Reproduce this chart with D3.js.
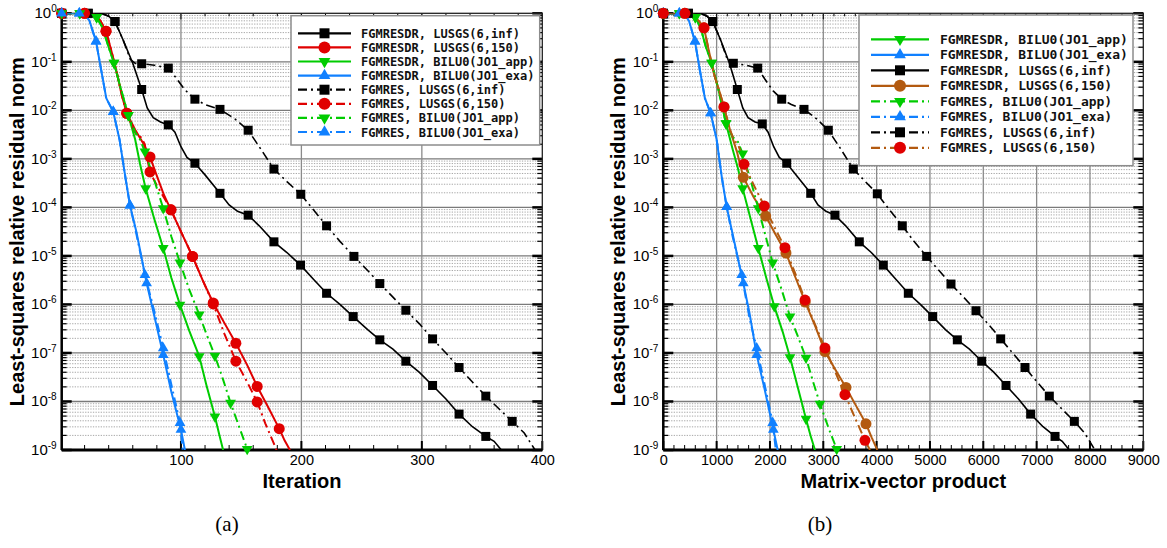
<!DOCTYPE html>
<html>
<head>
<meta charset="utf-8">
<script src="https://cdn.jsdelivr.net/npm/d3@7/dist/d3.min.js"></script>
<style>
  body { margin: 0; background: #fff; }
</style>
</head>
<body>
<div class="chart"></div>
<script>
// each point: [x, log10(residual), 1 if a symbol is drawn there]
// ---- (a) iterations ----
const itDrLusgsInf = [[1,0,1],[23,0,1],[35,-0.01],[40,-0.06],[45.2,-0.17,1],[52,-0.55],[60,-1.03],[67.4,-1.57,1],[72,-1.95],[77,-2.15],[83,-2.24],[89.5,-2.30,1],[95,-2.45],[100,-2.75],[105,-2.97],[111.6,-3.09,1],[120,-3.33],[132.4,-3.71,1],[140,-3.95],[147,-4.08],[155.8,-4.16,1],[165,-4.38],[177.2,-4.71,1],[188,-4.93],[199.3,-5.19,1],[210,-5.48],[220.9,-5.77,1],[232,-6.0],[243,-6.25,1],[255,-6.52],[265.1,-6.73,1],[276,-6.92],[286.7,-7.17,1],[298,-7.4],[308.9,-7.67,1],[320,-7.95],[330.9,-8.26,1],[342,-8.52],[353.1,-8.72,1],[360,-8.82],[366,-9.0]];
const itResLusgsInf = [[1,0,1],[23,0,1],[35,-0.01],[40,-0.06],[45.2,-0.17,1],[52,-0.55],[58,-0.95],[62,-1.03],[67.4,-1.04,1],[78,-1.07],[89.5,-1.13,1],[95,-1.3],[103,-1.57],[111.6,-1.77,1],[120,-1.88],[132.4,-1.98,1],[145,-2.18],[155.8,-2.41,1],[165,-2.75],[177.2,-3.21,1],[188,-3.47],[199.5,-3.73,1],[210,-4.05],[220.9,-4.38,1],[232,-4.7],[243.6,-5.01,1],[255,-5.3],[265.1,-5.57,1],[276,-5.85],[286.7,-6.12,1],[298,-6.4],[308.9,-6.71,1],[320,-7.0],[330.9,-7.30,1],[342,-7.6],[353.1,-7.89,1],[364,-8.15],[375,-8.41,1],[385,-8.65],[394,-9.0]];
const itDrLusgs150 = [[1,0,1],[20,0,1],[28,-0.03],[33,-0.15],[37.8,-0.37,1],[42,-0.75],[47,-1.25],[51,-1.7],[55,-2.06,1],[62,-2.4],[68,-2.65],[74.3,-2.96,1],[80,-3.35],[86,-3.75],[91.7,-4.05,1],[100,-4.5],[109.6,-5.01,1],[118,-5.5],[126.8,-5.97,1],[136,-6.38],[145.6,-6.80,1],[155,-7.25],[163.3,-7.69,1],[172,-8.1],[181.6,-8.56,1],[186,-8.8],[190.5,-9.0]];
const itResLusgs150 = [[1,0,1],[20,0,1],[28,-0.03],[33,-0.15],[37.8,-0.37,1],[42,-0.75],[47,-1.25],[51,-1.7],[55,-2.06,1],[60,-2.35],[63,-2.5],[67,-2.56],[70,-2.7],[72,-3.0],[74.3,-3.27,1],[80,-3.55],[86,-3.8],[91.7,-4.05,1],[100,-4.5],[109.6,-5.01,1],[118,-5.5],[126.8,-5.99,1],[136,-6.6],[145.6,-7.17,1],[155,-7.6],[163.3,-8.01,1],[170,-8.45],[179.4,-9.0]];
const itDrBiluApp = [[1,0,1],[16,0,1],[25,-0.02],[30,-0.08,1],[35,-0.3],[40,-0.7],[44.4,-1.02,1],[50,-1.55],[56.3,-2.10,1],[62,-2.6],[66,-3.1],[70.7,-3.61,1],[78,-4.25],[85.3,-4.84,1],[92,-5.45],[99.2,-6.01,1],[107,-6.55],[115.2,-7.07,1],[121,-7.65],[128.2,-8.31,1],[132,-8.7],[135,-9.0]];
const itResBiluApp = [[1,0,1],[16,0,1],[25,-0.02],[30,-0.08,1],[35,-0.3],[40,-0.7],[44.4,-1.02,1],[50,-1.55],[56.3,-2.10,1],[62,-2.45],[66,-2.6],[70.1,-2.85,1],[78,-3.45],[85.3,-4.02,1],[92,-4.6],[99.2,-5.14,1],[107,-5.7],[115.2,-6.21,1],[121,-6.6],[128.2,-7.06,1],[135,-7.55],[141.2,-8.03,1],[148,-8.5],[155,-8.98,1],[156,-9.05]];
const itDrBiluExa = [[1,0,1],[15.6,0,1],[20,-0.02],[24,-0.15],[29.5,-0.58,1],[34,-1.2],[38,-1.75],[43.8,-2.03,1],[49,-2.6],[54,-3.4],[57.7,-3.96,1],[63,-4.5],[71.5,-5.56,1],[78,-6.25],[85.3,-7.04,1],[92,-7.8],[100,-8.58,1],[103.3,-9.0]];
const itResBiluExa = [[1,0,1],[15.6,0,1],[20,-0.02],[24,-0.15],[29.5,-0.58,1],[34,-1.2],[38,-1.75],[43.8,-2.03,1],[49,-2.6],[54,-3.4],[57.7,-3.96,1],[63,-4.55],[70.1,-5.39,1],[78,-6.15],[85.3,-6.90,1],[92,-7.65],[99.2,-8.44,1],[101.5,-9.0]];

// ---- (b) matrix-vector products ----
const mvDrLusgsInf = [[0,0,1],[470,0,1],[720,-0.01],[820,-0.06],[926,-0.17,1],[1075,-0.55],[1240,-1.03],[1388,-1.57,1],[1490,-1.95],[1590,-2.15],[1720,-2.24],[1856,-2.28,1],[1965,-2.45],[2070,-2.75],[2175,-2.97],[2314,-3.09,1],[2490,-3.33],[2764,-3.71,1],[2900,-3.95],[3050,-4.08],[3219,-4.16,1],[3420,-4.38],[3675,-4.71,1],[3900,-4.93],[4125,-5.19,1],[4360,-5.48],[4594,-5.77,1],[4820,-6.0],[5051,-6.25,1],[5290,-6.52],[5513,-6.73,1],[5740,-6.92],[5970,-7.17,1],[6200,-7.4],[6426,-7.67,1],[6660,-7.95],[6888,-8.26,1],[7120,-8.52],[7345,-8.72,1],[7480,-8.82],[7613,-9.0]];
const mvResLusgsInf = [[0,0,1],[470,0,1],[720,-0.01],[820,-0.06],[926,-0.17,1],[1075,-0.55],[1200,-0.95],[1260,-1.01],[1313,-1.03,1],[1550,-1.07],[1770,-1.13,1],[1900,-1.35],[2060,-1.6],[2220,-1.77,1],[2400,-1.88],[2638,-1.98,1],[2880,-2.18],[3094,-2.41,1],[3300,-2.75],[3563,-3.21,1],[3790,-3.47],[4013,-3.72,1],[4240,-4.05],[4481,-4.38,1],[4700,-4.7],[4938,-5.01,1],[5170,-5.3],[5394,-5.58,1],[5630,-5.85],[5863,-6.13,1],[6090,-6.4],[6326,-6.71,1],[6550,-7.0],[6782,-7.30,1],[7010,-7.6],[7238,-7.89,1],[7470,-8.15],[7707,-8.41,1],[7900,-8.65],[8094,-9.0]];
const mvDrLusgs150 = [[0,0,1],[400,0,1],[560,-0.03],[660,-0.15],[763,-0.30,1],[850,-0.75],[950,-1.25],[1050,-1.6],[1138,-1.93,1],[1250,-2.4],[1380,-2.85],[1500,-3.38,1],[1700,-3.8],[1920,-4.18,1],[2100,-4.55],[2300,-4.94,1],[2480,-5.45],[2660,-5.95,1],[2850,-6.45],[3031,-6.97,1],[3230,-7.35],[3425,-7.71,1],[3610,-8.08],[3800,-8.46,1],[3910,-8.75],[4013,-9.0]];
const mvResLusgs150 = [[0,0,1],[406,0,1],[560,-0.03],[660,-0.15],[763,-0.30,1],[850,-0.75],[950,-1.25],[1050,-1.6],[1138,-1.93,1],[1250,-2.4],[1330,-2.62],[1400,-2.7],[1450,-2.85],[1513,-3.11,1],[1700,-3.55],[1894,-3.97,1],[2080,-4.4],[2281,-4.83,1],[2470,-5.35],[2657,-5.91,1],[2840,-6.4],[3031,-6.90,1],[3220,-7.38],[3406,-7.86,1],[3600,-8.35],[3781,-8.80,1],[3875,-9.0]];
const mvDrBiluApp = [[0,0,1],[300,0,1],[480,-0.02],[600,-0.08,1],[700,-0.3],[800,-0.7],[907,-1.02,1],[1040,-1.6],[1176,-2.27,1],[1300,-2.8],[1400,-3.2],[1488,-3.61,1],[1640,-4.25],[1781,-4.84,1],[1930,-5.45],[2081,-6.04,1],[2240,-6.57],[2376,-7.09,1],[2520,-7.7],[2676,-8.36,1],[2760,-8.7],[2844,-9.0]];
const mvResBiluApp = [[0,0,1],[300,0,1],[480,-0.02],[600,-0.08,1],[700,-0.3],[800,-0.7],[907,-1.02,1],[1040,-1.6],[1176,-2.27,1],[1300,-2.55],[1400,-2.65],[1488,-2.89,1],[1640,-3.45],[1781,-4.02,1],[1920,-4.6],[2051,-5.14,1],[2220,-5.7],[2376,-6.25,1],[2520,-6.65],[2676,-7.10,1],[2810,-7.6],[2938,-8.05,1],[3100,-8.55],[3251,-8.98,1],[3270,-9.05]];
const mvDrBiluExa = [[0,0,1],[300,0,1],[400,-0.02],[480,-0.15],[594,-0.58,1],[690,-1.2],[780,-1.75],[888,-2.06,1],[1000,-2.6],[1100,-3.4],[1188,-3.99,1],[1300,-4.55],[1500,-5.56,1],[1620,-6.2],[1751,-7.04,1],[1900,-7.75],[2063,-8.58,1],[2145,-9.0]];
const mvResBiluExa = [[0,0,1],[300,0,1],[400,-0.02],[480,-0.15],[594,-0.58,1],[690,-1.2],[780,-1.75],[888,-2.06,1],[1000,-2.6],[1100,-3.4],[1188,-3.99,1],[1300,-4.6],[1469,-5.39,1],[1620,-6.3],[1751,-6.90,1],[1900,-7.65],[2051,-8.44,1],[2110,-9.0]];

const legendA = ["FGMRESDR, LUSGS(6,inf)","FGMRESDR, LUSGS(6,150)","FGMRESDR, BILU0(JO1_app)","FGMRESDR, BILU0(JO1_exa)",
                 "FGMRES, LUSGS(6,inf)","FGMRES, LUSGS(6,150)","FGMRES, BILU0(JO1_app)","FGMRES, BILU0(JO1_exa)"];
const legendB = ["FGMRESDR, BILU0(JO1_app)","FGMRESDR, BILU0(JO1_exa)","FGMRESDR, LUSGS(6,inf)","FGMRESDR, LUSGS(6,150)",
                 "FGMRES, BILU0(JO1_app)","FGMRES, BILU0(JO1_exa)","FGMRES, LUSGS(6,inf)","FGMRES, LUSGS(6,150)"];
const xTicksA = [100,200,300,400];
const xTicksB = [0,1000,2000,3000,4000,5000,6000,7000,8000,9000];
const decades = [0,-1,-2,-3,-4,-5,-6,-7,-8,-9];

const BLACK="#000", RED="#e00000", GREEN="#00cc00", BLUE="#1080ff", BROWN="#b35a10";
const DASH="9,4,2,4";

const svg = d3.select(".chart").append("svg")
  .attr("width",1167).attr("height",548)
  .style("font-family","'Liberation Sans', Arial, sans-serif");

const yTop=13.3, yBot=450;
const y = d3.scaleLog().domain([1e-9,1]).range([yBot,yTop]);

function symbolPath(kind,size){
  if(kind=="square") return d3.symbol(d3.symbolSquare, size*size)();
  if(kind=="circle") return d3.symbol(d3.symbolCircle, Math.PI*size*size/4)();
  return d3.symbol(d3.symbolTriangle, size*size*0.5)();
}

function drawPanel(p){
  const x = d3.scaleLinear().domain(p.domain).range([p.left,p.right]);
  const g = svg.append("g");
  const id = "clip"+p.name;
  g.append("clipPath").attr("id",id).append("rect")
    .attr("x",p.left).attr("y",yTop).attr("width",p.right-p.left).attr("height",yBot-yTop);

  // minor horizontal grid
  const minors=[];
  decades.slice(1).forEach(d=>{ for(let k=2;k<=9;k++) minors.push(k*Math.pow(10,d)); });
  g.selectAll(".mg").data(minors).enter().append("line")
    .attr("x1",p.left).attr("x2",p.right).attr("y1",d=>y(d)).attr("y2",d=>y(d))
    .attr("stroke","#a8a8a8").attr("stroke-width",1).attr("stroke-dasharray","1.3,1.3");
  // major grid
  g.selectAll(".Mg").data(decades.slice(1,-1)).enter().append("line")
    .attr("x1",p.left).attr("x2",p.right).attr("y1",d=>y(Math.pow(10,d))).attr("y2",d=>y(Math.pow(10,d)))
    .attr("stroke","#7a7a7a").attr("stroke-width",1.3);
  g.selectAll(".vg").data(p.ticks.filter(t=>t>p.domain[0]&&t<p.domain[1])).enter().append("line")
    .attr("x1",d=>x(d)).attr("x2",d=>x(d)).attr("y1",yTop).attr("y2",yBot)
    .attr("stroke","#8a8a8a").attr("stroke-width",1.3);

  // x tick labels
  const ax = g.append("g").attr("transform",`translate(0,${yBot})`)
    .call(d3.axisBottom(x).tickValues(p.ticks).tickFormat(d3.format("d")).tickSize(0).tickPadding(5));
  ax.select(".domain").remove();
  ax.selectAll("text").attr("font-size",14.5).attr("font-family","'Liberation Sans', Arial, sans-serif").attr("fill","#000");
  // x ticks (inside) bottom and top
  const minorX = d3.range(0, p.domain[1]+1e-6, p.minorStep).filter(v=>v>=p.domain[0]);
  minorX.forEach(v=>{
    const major = p.ticks.indexOf(v)>=0;
    const len = major?9:5;
    g.append("line").attr("x1",x(v)).attr("x2",x(v)).attr("y1",yBot).attr("y2",yBot-len)
      .attr("stroke","#000").attr("stroke-width",major?2:1);
    g.append("line").attr("x1",x(v)).attr("x2",x(v)).attr("y1",yTop).attr("y2",yTop+(major?6:3))
      .attr("stroke","#000").attr("stroke-width",1);
  });
  // y ticks both sides + labels
  decades.forEach(d=>{
    const yy=y(Math.pow(10,d));
    g.append("line").attr("x1",p.left).attr("x2",p.left+10).attr("y1",yy).attr("y2",yy).attr("stroke","#000").attr("stroke-width",2.5);
    g.append("line").attr("x1",p.right).attr("x2",p.right-10).attr("y1",yy).attr("y2",yy).attr("stroke","#000").attr("stroke-width",2.5);
    const t=g.append("text").attr("x",p.left-5).attr("y",yy+5).attr("text-anchor","end").attr("font-size",15);
    t.append("tspan").text("10");
    t.append("tspan").attr("dy",-6).attr("font-size",10).text(d===0?"0":"-"+(-d));
  });
  minors.forEach(v=>{
    const yy=y(v);
    g.append("line").attr("x1",p.left).attr("x2",p.left+5).attr("y1",yy).attr("y2",yy).attr("stroke","#000").attr("stroke-width",1.2);
    g.append("line").attr("x1",p.right).attr("x2",p.right-5).attr("y1",yy).attr("y2",yy).attr("stroke","#000").attr("stroke-width",1.2);
  });

  // frame
  g.append("rect").attr("x",p.left).attr("y",yTop).attr("width",p.right-p.left).attr("height",yBot-yTop)
    .attr("fill","none").attr("stroke","#222").attr("stroke-width",1.3);
  g.append("line").attr("x1",p.left).attr("x2",p.right).attr("y1",yBot).attr("y2",yBot).attr("stroke","#000").attr("stroke-width",3);
  g.append("line").attr("x1",p.left).attr("x2",p.left).attr("y1",yTop).attr("y2",yBot).attr("stroke","#000").attr("stroke-width",2.5);

  // series
  const line = d3.line().x(d=>x(d[0])).y(d=>y(Math.pow(10,d[1])));
  p.series.forEach(s=>{
    g.append("path").attr("d",line(s.data)).attr("clip-path",`url(#${id})`)
      .attr("fill","none").attr("stroke",s.color).attr("stroke-width",s.color===BLACK?1.6:2)
      .attr("stroke-dasharray",s.dash?DASH:null);
  });
  p.series.forEach(s=>{
    g.selectAll(null).data(s.data.filter(d=>d[2])).enter().append("path")
      .attr("d",symbolPath(s.sym,s.size))
      .attr("transform",d=>`translate(${x(d[0])},${y(Math.pow(10,d[1]))})`+(s.sym==="down"?" rotate(180)":""))
      .attr("fill",s.mcolor||s.color);
  });

  // legend
  const L=p.legend;
  g.append("rect").attr("x",L.x).attr("y",L.y).attr("width",L.w).attr("height",L.h)
    .attr("fill","#fff").attr("stroke","#8c8c8c").attr("stroke-width",1.5);
  p.series.forEach((s,i)=>{
    const yy=L.y0+i*L.dy;
    g.append("line").attr("x1",L.lx0).attr("x2",L.lx1).attr("y1",yy).attr("y2",yy)
      .attr("stroke",s.color).attr("stroke-width",2.2).attr("stroke-dasharray",s.dash?DASH:null);
    g.append("path").attr("d",symbolPath(s.sym,s.size+1))
      .attr("transform",`translate(${(L.lx0+L.lx1)/2},${yy})`+(s.sym==="down"?" rotate(180)":""))
      .attr("fill",s.mcolor||s.color);
    g.append("text").attr("x",L.tx).attr("y",yy+4.5).attr("font-family","'DejaVu Sans Mono', monospace")
      .attr("font-weight","bold").attr("font-size",L.fs).attr("fill","#111").text(p.labels[i]);
  });

  // titles
  g.append("text").attr("x",(p.left+p.right)/2).attr("y",488).attr("text-anchor","middle")
    .attr("font-weight","bold").attr("font-size",20).text(p.xTitle);
  g.append("text").attr("transform",`translate(${p.left-38},${(yTop+yBot)/2}) rotate(-90)`)
    .attr("text-anchor","middle").attr("font-weight","bold").attr("font-size",20)
    .text("Least-squares relative residual norm");
  svg.append("text").attr("x",p.capX).attr("y",531).attr("text-anchor","middle")
    .attr("font-family","'Liberation Serif', 'DejaVu Serif', serif").attr("font-size",21).text(p.caption);
}

drawPanel({
  name:"a", left:61.7, right:542.3, domain:[1,400], ticks:xTicksA, minorStep:20,
  xTitle:"Iteration", caption:"(a)", capX:227, labels:legendA,
  legend:{x:291,y:15.7,w:248.7,h:129.3,y0:33.3,dy:14.1,lx0:298,lx1:351,tx:361,fs:12},
  series:[
    {data:itDrLusgsInf,color:BLACK,sym:"square",size:9},
    {data:itDrLusgs150,color:RED,sym:"circle",size:11},
    {data:itDrBiluApp,color:GREEN,sym:"down",size:10},
    {data:itDrBiluExa,color:BLUE,sym:"up",size:10},
    {data:itResLusgsInf,color:BLACK,sym:"square",size:9,dash:true},
    {data:itResLusgs150,color:RED,sym:"circle",size:11,dash:true},
    {data:itResBiluApp,color:GREEN,sym:"down",size:10,dash:true},
    {data:itResBiluExa,color:BLUE,sym:"up",size:10,dash:true}
  ]
});

drawPanel({
  name:"b", left:663.3, right:1143.3, domain:[0,9000], ticks:xTicksB, minorStep:200,
  xTitle:"Matrix-vector product", caption:"(b)", capX:820, labels:legendB,
  legend:{x:859,y:15,w:274,h:150.7,y0:39.3,dy:15.5,lx0:871,lx1:929,tx:940,fs:13},
  series:[
    {data:mvDrBiluApp,color:GREEN,sym:"down",size:10},
    {data:mvDrBiluExa,color:BLUE,sym:"up",size:10},
    {data:mvDrLusgsInf,color:BLACK,sym:"square",size:9},
    {data:mvDrLusgs150,color:BROWN,sym:"circle",size:11},
    {data:mvResBiluApp,color:GREEN,sym:"down",size:10,dash:true},
    {data:mvResBiluExa,color:BLUE,sym:"up",size:10,dash:true},
    {data:mvResLusgsInf,color:BLACK,sym:"square",size:9,dash:true},
    {data:mvResLusgs150,color:BROWN,sym:"circle",size:11,dash:true,mcolor:RED}
  ]
});
</script>
</body>
</html>
